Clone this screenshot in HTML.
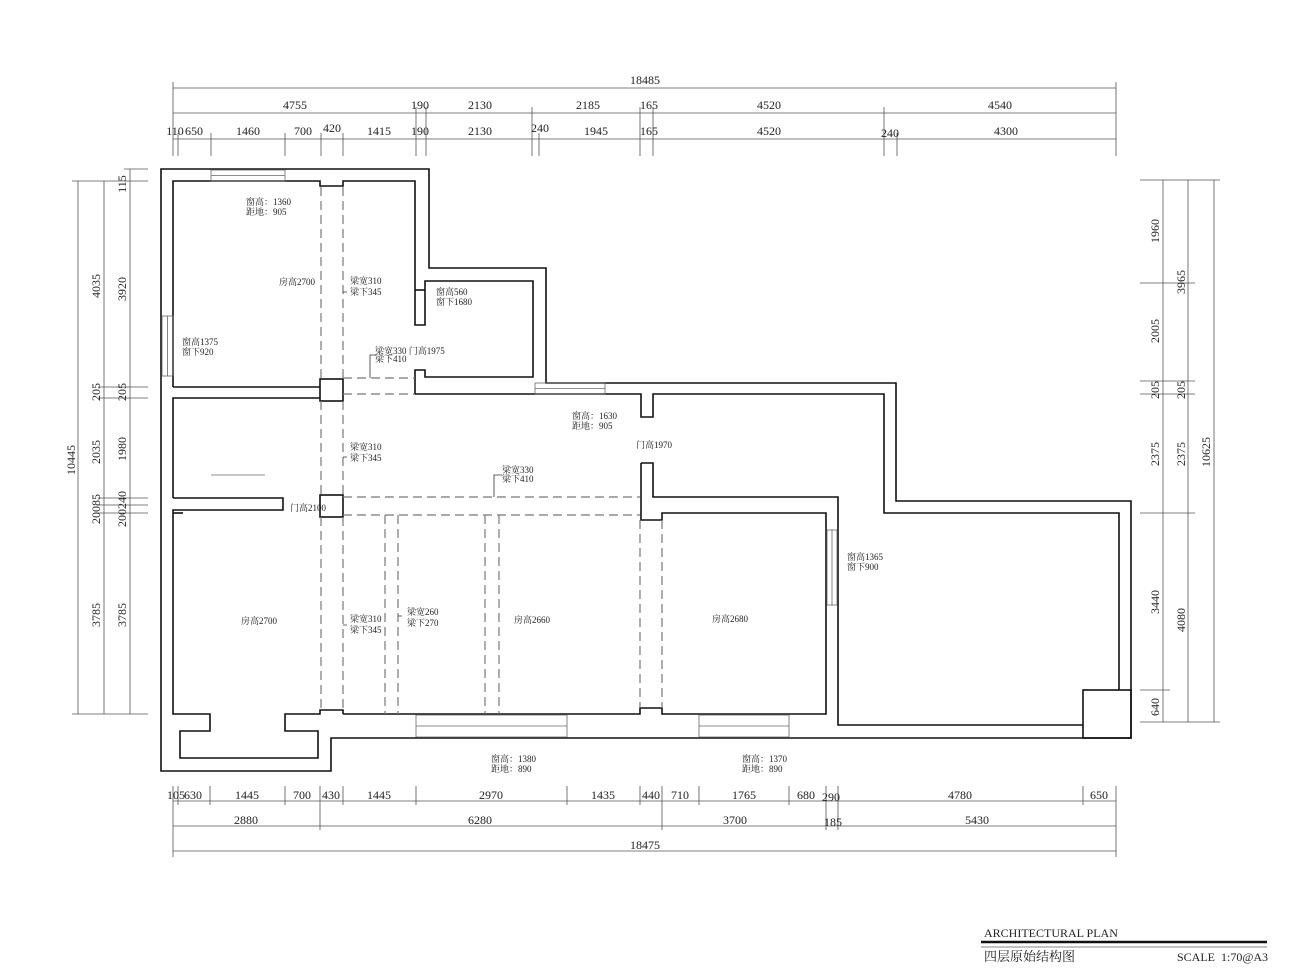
<!DOCTYPE html>
<html><head><meta charset="utf-8"><style>
html,body{margin:0;padding:0;background:#fff;}
svg{display:block;}
text{font-family:"Liberation Serif","Noto Serif CJK SC",serif;fill:#222;}
.d{font-size:12px;}
.c{font-size:9px;}
</style></head><body>
<svg width="1298" height="974" viewBox="0 0 1298 974" xmlns="http://www.w3.org/2000/svg">
<g fill="none" stroke="#111" stroke-width="1.6">
<path d="M161,169 H429 V268 H546 V383 H896 V501 H1131 V738 H331 V771 H161 Z"/>
<path d="M173,387 V181 H320 V186 H343 V181 H415 V325 H425 V283"/>
<path d="M173,387 H320"/>
<rect x="320" y="379" width="23" height="22"/>
<path d="M173,498 V398 H320"/>
<path d="M425,283 V281 H533 V377 H425 V370 H415 V394 H641 V417 H653 V394 H884 V513 H1119 V690"/>
<path d="M415,290 H425"/>
<path d="M173,498 H283 V510 H173 V513"/>
<rect x="320" y="495" width="23" height="22"/>
<path d="M641,463 H653 V497 H838 V725 H1083"/>
<rect x="1083" y="690" width="48" height="48"/>
<path d="M641,463 V513"/>
<path d="M641,513 V520 H662 V513 H826 V714 H662 V708 H640 V714 H343"/>
<path d="M173,513 V714 H210 V731 H180 V758 H318 V731 H285 V714 H320 V710 H343 V714"/>
<path d="M173,513 H183"/>
</g>
<g fill="none" stroke="#666" stroke-width="0.8">
<rect x="211" y="170" width="74" height="11"/><line x1="211" y1="175.5" x2="285" y2="175.5"/>
<rect x="162" y="316" width="11" height="60"/><line x1="167.5" y1="316" x2="167.5" y2="376"/>
<rect x="535" y="383" width="70" height="11"/><line x1="535" y1="388.5" x2="605" y2="388.5"/>
<rect x="416" y="715" width="151" height="22"/><line x1="416" y1="726" x2="567" y2="726"/>
<rect x="699" y="715" width="90" height="22"/><line x1="699" y1="726" x2="789" y2="726"/>
<rect x="827" y="530" width="10" height="75"/><line x1="832" y1="530" x2="832" y2="605"/>
<line x1="211" y1="475" x2="265" y2="475"/>
</g>
<g fill="none" stroke="#777" stroke-width="1.2" stroke-dasharray="9,5">
<line x1="321" y1="187" x2="321" y2="379"/><line x1="343" y1="187" x2="343" y2="379"/>
<line x1="321" y1="401" x2="321" y2="495"/><line x1="343" y1="401" x2="343" y2="495"/>
<line x1="321" y1="517" x2="321" y2="710"/><line x1="343" y1="517" x2="343" y2="710"/>
<line x1="343" y1="378" x2="415" y2="378"/><line x1="343" y1="394" x2="415" y2="394"/>
<line x1="343" y1="497" x2="640" y2="497"/><line x1="343" y1="515" x2="640" y2="515"/>
<line x1="385" y1="515" x2="385" y2="714"/><line x1="398" y1="515" x2="398" y2="714"/>
<line x1="485" y1="515" x2="485" y2="714"/><line x1="499" y1="515" x2="499" y2="714"/>
<line x1="640" y1="520" x2="640" y2="708"/><line x1="662" y1="520" x2="662" y2="708"/>
</g>
<g stroke="#333" stroke-width="0.8" fill="none">
<path d="M347,292 H343 M347,457 H343 M347,625 H343 M402,616 H398 M370,378 V355 H376 M494,497 V475 H502"/>
</g>
<g class="c">
<text x="246" y="205">窗高：1360</text><text x="246" y="215">距地：905</text>
<text x="279" y="285">房高2700</text>
<text x="350" y="284">梁宽310</text><text x="350" y="295">梁下345</text>
<text x="436" y="295">窗高560</text><text x="436" y="305">窗下1680</text>
<text x="182" y="345">窗高1375</text><text x="182" y="355">窗下920</text>
<text x="375" y="354">梁宽330 门高1975</text><text x="375" y="362">梁下410</text>
<text x="572" y="419">窗高：1630</text><text x="572" y="429">距地：905</text>
<text x="636" y="448">门高1970</text>
<text x="350" y="450">梁宽310</text><text x="350" y="461">梁下345</text>
<text x="502" y="473">梁宽330</text><text x="502" y="482">梁下410</text>
<text x="290" y="511">门高2100</text>
<text x="847" y="560">窗高1365</text><text x="847" y="570">窗下900</text>
<text x="407" y="615">梁宽260</text><text x="407" y="626">梁下270</text>
<text x="350" y="622">梁宽310</text><text x="350" y="633">梁下345</text>
<text x="241" y="624">房高2700</text>
<text x="514" y="623">房高2660</text>
<text x="712" y="622">房高2680</text>
<text x="491" y="762">窗高：1380</text><text x="491" y="772">距地：890</text>
<text x="742" y="762">窗高：1370</text><text x="742" y="772">距地：890</text>
</g>
<g stroke="#555" stroke-width="0.8" fill="none">
<line x1="173" y1="88" x2="1116" y2="88"/>
<line x1="173" y1="113" x2="1116" y2="113"/>
<line x1="173" y1="139" x2="1116" y2="139"/>
<path d="M173,82 V156 M1116,82 V156 M416,107 V156 M426,107 V156 M532,107 V156 M640,107 V156 M653,107 V156 M884,107 V156 M178,133 V156 M211,133 V156 M285,133 V156 M321,133 V156 M343,133 V156 M539,133 V156 M897,133 V156"/>
<line x1="173" y1="801" x2="1116" y2="801"/>
<line x1="173" y1="826" x2="1116" y2="826"/>
<line x1="173" y1="851" x2="1116" y2="851"/>
<path d="M173,786 V857 M1116,786 V857 M178,786 V805 M210,786 V805 M285,786 V805 M320,786 V830 M343,786 V805 M416,786 V805 M567,786 V805 M640,786 V805 M662,786 V830 M699,786 V805 M789,786 V805 M826,786 V830 M838,786 V830 M1083,786 V805"/>
<line x1="78" y1="181" x2="78" y2="714"/>
<line x1="104" y1="181" x2="104" y2="714"/>
<line x1="130" y1="169" x2="130" y2="714"/>
<path d="M72,181 H148 M72,714 H148 M98,387 H148 M98,398 H148 M98,498 H148 M98,505 H148 M98,513 H148 M124,169 H148"/>
<line x1="1163" y1="180" x2="1163" y2="722"/>
<line x1="1188" y1="180" x2="1188" y2="722"/>
<line x1="1214" y1="180" x2="1214" y2="722"/>
<path d="M1140,180 H1220 M1140,722 H1220 M1140,283 H1195 M1140,381 H1195 M1140,394 H1195 M1140,513 H1195 M1140,690 H1170"/>
</g>
<g class="d" text-anchor="middle">
<text x="645" y="84">18485</text>
<text x="295" y="109">4755</text><text x="420" y="109">190</text><text x="480" y="109">2130</text><text x="588" y="109">2185</text><text x="649" y="109">165</text><text x="769" y="109">4520</text><text x="1000" y="109">4540</text>
<text x="175" y="135">110</text><text x="194" y="135">650</text><text x="248" y="135">1460</text><text x="303" y="135">700</text><text x="332" y="132">420</text><text x="379" y="135">1415</text><text x="420" y="135">190</text><text x="480" y="135">2130</text><text x="540" y="132">240</text><text x="596" y="135">1945</text><text x="649" y="135">165</text><text x="769" y="135">4520</text><text x="890" y="137">240</text><text x="1006" y="135">4300</text>
<text x="176" y="799">105</text><text x="193" y="799">630</text><text x="247" y="799">1445</text><text x="302" y="799">700</text><text x="331" y="799">430</text><text x="379" y="799">1445</text><text x="491" y="799">2970</text><text x="603" y="799">1435</text><text x="651" y="799">440</text><text x="680" y="799">710</text><text x="744" y="799">1765</text><text x="806" y="799">680</text><text x="831" y="801">290</text><text x="960" y="799">4780</text><text x="1099" y="799">650</text>
<text x="246" y="824">2880</text><text x="480" y="824">6280</text><text x="735" y="824">3700</text><text x="833" y="826">185</text><text x="977" y="824">5430</text>
<text x="645" y="849">18475</text>
</g>
<g class="d" text-anchor="middle">
<text transform="translate(75,460) rotate(-90)">10445</text>
<text transform="translate(100,286) rotate(-90)">4035</text>
<text transform="translate(100,392) rotate(-90)">205</text>
<text transform="translate(100,452) rotate(-90)">2035</text>
<text transform="translate(100,509) rotate(-90)">20085</text>
<text transform="translate(100,615) rotate(-90)">3785</text>
<text transform="translate(126,184) rotate(-90)">115</text>
<text transform="translate(126,289) rotate(-90)">3920</text>
<text transform="translate(126,392) rotate(-90)">205</text>
<text transform="translate(126,449) rotate(-90)">1980</text>
<text transform="translate(126,509) rotate(-90)">200240</text>
<text transform="translate(126,615) rotate(-90)">3785</text>
<text transform="translate(1159,231) rotate(-90)">1960</text>
<text transform="translate(1159,331) rotate(-90)">2005</text>
<text transform="translate(1159,390) rotate(-90)">205</text>
<text transform="translate(1159,454) rotate(-90)">2375</text>
<text transform="translate(1159,602) rotate(-90)">3440</text>
<text transform="translate(1159,707) rotate(-90)">640</text>
<text transform="translate(1185,282) rotate(-90)">3965</text>
<text transform="translate(1185,390) rotate(-90)">205</text>
<text transform="translate(1185,454) rotate(-90)">2375</text>
<text transform="translate(1185,620) rotate(-90)">4080</text>
<text transform="translate(1210,452) rotate(-90)">10625</text>
</g>
<text x="984" y="937" style="font-size:12px">ARCHITECTURAL PLAN</text>
<line x1="981" y1="942" x2="1267" y2="942" stroke="#111" stroke-width="2.5"/>
<line x1="981" y1="947" x2="1267" y2="947" stroke="#888" stroke-width="1"/>
<text x="984" y="961" style="font-size:13px">四层原始结构图</text>
<text x="1177" y="961" style="font-size:12px" xml:space="preserve">SCALE  1:70@A3</text>
</svg>
</body></html>
